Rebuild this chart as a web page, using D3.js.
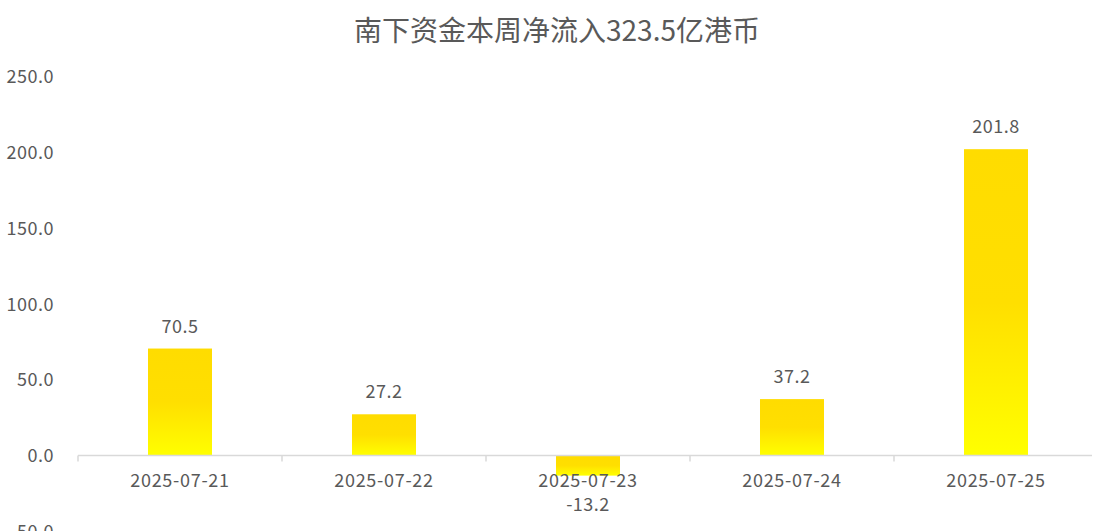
<!DOCTYPE html>
<html><head><meta charset="utf-8">
<script src="https://cdn.jsdelivr.net/npm/d3@7"></script>
<style>
html,body{margin:0;padding:0;background:#fff;overflow:hidden;}
svg{display:block;font-family:"Noto Sans CJK SC","Noto Sans",sans-serif;}
</style></head>
<body>
<svg id="chart" width="1095" height="531"></svg>
<script>
const title = "南下资金本周净流入323.5亿港币";
const categories = ["2025-07-21","2025-07-22","2025-07-23","2025-07-24","2025-07-25"];
const values = [70.5, 27.2, -13.2, 37.2, 201.8];
const yTicks = [-50, 0, 50, 100, 150, 200, 250];

const W = 1095, H = 531;
const svg = d3.select("#chart");
const textColor = "#595959";
const fmt = d => d.toFixed(1);
const FONT = "'Noto Sans CJK SC','Noto Sans',sans-serif";

const x = d3.scaleBand().domain(categories).range([78, 1098]).paddingInner(0).paddingOuter(0);
const y = d3.scaleLinear().domain([-50, 250]).range([531.5, 76]);
const barW = 64;

const defs = svg.append("defs");
const grad = defs.append("linearGradient").attr("id","barGrad").attr("x1",0).attr("y1",0).attr("x2",0).attr("y2",1);
grad.append("stop").attr("offset","0").attr("stop-color","#FFDC00");
grad.append("stop").attr("offset","0.5").attr("stop-color","#FFDF00");
grad.append("stop").attr("offset","1").attr("stop-color","#FFFF00");

// title
svg.append("text").attr("x", 557).attr("y", 29).attr("text-anchor","middle")
  .attr("dominant-baseline","central").attr("font-size", 28).attr("fill", textColor).text(title);

// y axis labels
const yAxis = d3.axisLeft(y).tickValues(yTicks).tickFormat(fmt).tickSize(0).tickPadding(0);
const gy = svg.append("g").attr("transform","translate(54,0)").call(yAxis);
gy.select(".domain").remove();
gy.selectAll("text").attr("font-size",18).attr("fill",textColor)
  .attr("font-family",FONT).attr("dy","0.35em").attr("letter-spacing","0.5px");

// bars
svg.append("g").selectAll("rect").data(values).join("rect")
  .attr("x",(d,i)=>x(categories[i]) + x.bandwidth()/2 - barW/2)
  .attr("y",d=>y(Math.max(0,d)))
  .attr("width",barW)
  .attr("height",d=>Math.abs(y(d)-y(0)))
  .attr("fill","url(#barGrad)");

// x axis
const xAxis = d3.axisBottom(x).tickSize(0).tickPadding(0);
const gx = svg.append("g").attr("transform",`translate(0,${y(0)})`).call(xAxis);
gx.select(".domain").remove();
gx.append("line").attr("x1",78).attr("x2",1092).attr("y1",0).attr("y2",0)
  .attr("stroke","#d9d9d9").attr("stroke-width",1.5);
const bounds = categories.map(c=>x(c)).concat([x(categories[categories.length-1])+x.bandwidth()]);
gx.selectAll(".bnd").data(bounds.filter(b=>b<1095)).join("line").attr("class","bnd")
  .attr("x1",d=>d).attr("x2",d=>d).attr("y1",0).attr("y2",6)
  .attr("stroke","#d9d9d9").attr("stroke-width",1.5);
gx.selectAll(".tick text").attr("font-size",18).attr("fill",textColor)
  .attr("font-family",FONT).attr("letter-spacing","0.7px")
  .attr("y",25).attr("dy","0.35em");

// value labels
svg.append("g").selectAll("text").data(values).join("text")
  .attr("x",(d,i)=>x(categories[i]) + x.bandwidth()/2)
  .attr("y",d=> d>=0 ? y(d)-24 : y(d)+27)
  .attr("text-anchor","middle").attr("dominant-baseline","central")
  .attr("font-size",18).attr("fill",textColor).attr("letter-spacing","0.5px")
  .text(fmt);
</script>
</body></html>
